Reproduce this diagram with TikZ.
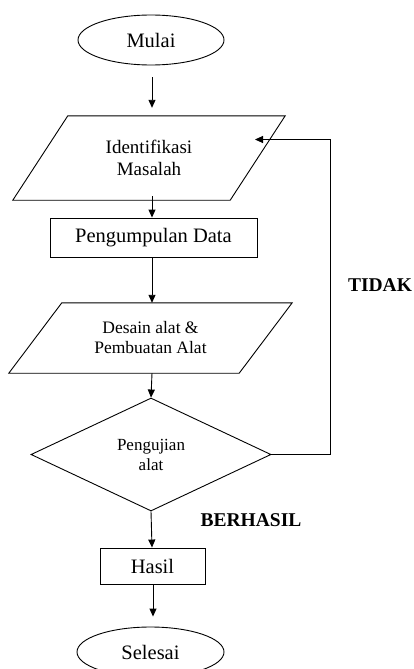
\documentclass[tikz,border=0pt]{standalone}
\usepackage{fontspec}
\setmainfont{Liberation Serif}
\usetikzlibrary{shapes.geometric,arrows.meta,calc}
\tikzset{
  box/.style={draw, line width=0.9pt, inner sep=0pt, align=center},
  term/.style={box, ellipse, minimum width=146, minimum height=50, font=\fontsize{20.5}{23}\selectfont},
  iotext/.style={inner sep=0pt, align=center},
  ioline/.style={line width=0.9pt, line join=miter},
  proc/.style={box, rectangle, font=\fontsize{20.5}{23}\selectfont},
  dec/.style={box, diamond, minimum width=240, minimum height=113, font=\fontsize{17}{20}\selectfont},
  flow/.style={line width=0.9pt, -{Triangle[length=8pt,width=7pt]}},
  lbl/.style={font=\fontsize{19.5}{22}\selectfont\bfseries, inner sep=0pt}
}
\begin{document}
\begin{tikzpicture}[x=1pt,y=-1pt]
\useasboundingbox (0,0) rectangle (414,669);
\clip (0,0) rectangle (414,669);
\node[term] (mulai) at (151,40) {Mulai};
\node[iotext, minimum width=272, minimum height=84,
      font=\fontsize{19}{22}\selectfont] (ident) at (149,158) {Identifikasi\\Masalah};
\draw[ioline] ($(ident.north west)+(55,0)$) -- (ident.north east)
   -- ($(ident.south east)-(55,0)$) -- (ident.south west) -- cycle;
\node[proc, minimum width=207, minimum height=39] (kumpul) at (153.5,237.5) {Pengumpulan Data};
\node[iotext, minimum width=283, minimum height=70,
      font=\fontsize{17.5}{20}\selectfont] (desain) at (150.5,338) {Desain alat \&\\Pembuatan Alat};
\draw[ioline] ($(desain.north west)+(53,0)$) -- (desain.north east)
   -- ($(desain.south east)-(53,0)$) -- (desain.south west) -- cycle;
\node[dec] (uji) at (151,454.5) {Pengujian\\alat};
\node[proc, minimum width=105, minimum height=36] (hasil) at (152.5,566) {Hasil};
\node[term, minimum width=147] (selesai) at (150.5,652) {Selesai};
\node[lbl] (tidak) at (380,285) {TIDAK};
\node[lbl] (berhasil) at (251,520) {BERHASIL};
\coordinate (c1) at (330,454.5);
\coordinate (c2) at (330,139.5);
\coordinate (fb) at (255,139.5);

\draw[flow, shorten <=12pt, shorten >=8pt] (mulai.south -| 152,0) -- (ident.north -| 152,0);
\draw[flow, shorten <=-4pt] (ident.south -| 152,0) -- (kumpul.north -| 152,0);
\draw[flow] (kumpul.south -| 152,0) -- (desain.north -| 152,0);
\draw[flow] (desain.south -| 152,0) -- (uji.north);
\draw[flow] (uji.south) -- (hasil.north -| 152,0);
\draw[flow, shorten >=10pt] (hasil.south -| 153,0) -- (selesai.north -| 153,0);
\draw[flow] (uji.east) -- (c1) -- (c2) -- (fb);
\end{tikzpicture}
\end{document}
